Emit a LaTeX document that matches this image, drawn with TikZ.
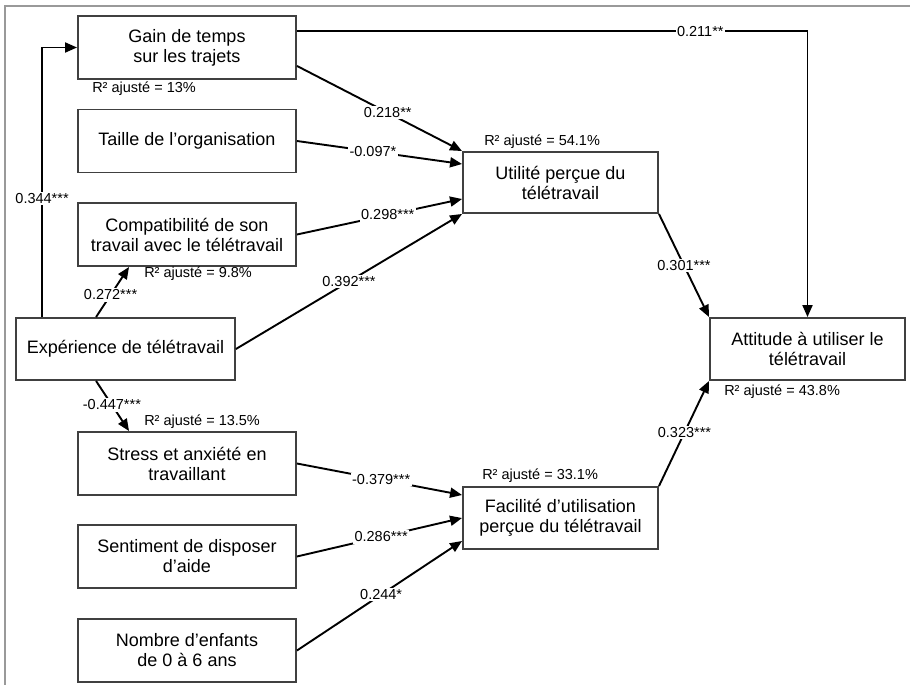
\documentclass[tikz,border=0pt]{standalone}
\usepackage{fontspec}
\setmainfont{Liberation Sans}
\usetikzlibrary{arrows.meta,positioning,calc}

\begin{document}
\begin{tikzpicture}[
      x=1pt,y=-1pt,
      var/.style = {rectangle,draw=black!75,line width=1.9pt,text centered,align=center,minimum width=218pt,minimum height=63pt,inner sep=0pt,font=\fontsize{18}{20}\selectfont},
      dep/.style = {var,minimum width=195pt,minimum height=62pt},
      arrow/.style = {line width=1.9pt,-{Triangle[length=12pt,width=10pt]}},
      coef/.style = {fill=white,inner sep=1.5pt,font=\fontsize{14.5}{16}\selectfont},
      rsq/.style = {anchor=west,inner sep=0pt,font=\fontsize{14.5}{16}\selectfont}
      ]
      \useasboundingbox (0,0) rectangle (910,685);
      \draw[black!40,line width=2pt] (5,685) -- (5,6) -- (910,6);

      % variables explicatives
      \node (gain)[var] at (187,47.5) {Gain de temps\\sur les trajets};
      \node (taille)[var] at (187,141) {Taille de l’organisation};
      \node (compat)[var] at (187,234.5) {Compatibilité de son\\travail avec le télétravail};
      \node (exper)[var,minimum width=219pt,minimum height=62pt] at (125.5,349) {Expérience de télétravail};
      \node (stress)[var] at (187,463.5) {Stress et anxiété en\\travaillant};
      \node (aide)[var] at (187,556.5) {Sentiment de disposer\\d’aide};
      \node (enfants)[var] at (187,650.5) {Nombre d’enfants\\de 0 à 6 ans};

      % variables dependantes
      \node (utilite)[dep,minimum height=61pt] at (560.5,182.5) {Utilité perçue du\\télétravail};
      \node (facilite)[dep] at (560.5,518) {Facilité d’utilisation\\perçue du télétravail};
      \node (attitude)[dep] at (807.5,349) {Attitude à utiliser le\\télétravail};

      % R2
      \node (r2gain)[rsq] at ([xshift=15pt,yshift=-9pt]gain.south west) {R² ajusté = 13\%};
      \node (r2compat)[rsq] at ([xshift=67pt,yshift=-7pt]compat.south west) {R² ajusté = 9.8\%};
      \node (r2stress)[rsq] at ([xshift=67pt,yshift=9pt]stress.north west) {R² ajusté = 13.5\%};
      \node (r2utilite)[rsq] at ([xshift=22pt,yshift=9pt]utilite.north west) {R² ajusté = 54.1\%};
      \node (r2facilite)[rsq] at ([xshift=20pt,yshift=10pt]facilite.north west) {R² ajusté = 33.1\%};
      \node (r2attitude)[rsq] at ([xshift=15pt,yshift=-11pt]attitude.south west) {R² ajusté = 43.8\%};

      % liens
      \draw[arrow] ([yshift=-16pt]gain.north east) -| node[coef,pos=0.395]{0.211**} (attitude.north);
      \draw[arrow] ([xshift=27pt]exper.north west) |- node[coef,pos=0.22]{0.344***} (gain.west);
      \path ([yshift=14pt]gain.south east) edge[arrow] node[coef,pos=0.55]{0.218**} (utilite.north west);
      \path (taille.east) edge[arrow] node[coef,pos=0.46]{-0.097*} ([yshift=18.5pt]utilite.west);
      \path (compat.east) edge[arrow] node[coef,pos=0.55]{0.298***} ([yshift=-16.5pt]utilite.west);
      \path (exper.east) edge[arrow] node[coef,pos=0.5]{0.392***} (utilite.south west);
      \path ([xshift=81pt]exper.north west) edge[arrow] node[coef,pos=0.44]{0.272***} ([xshift=52pt]compat.south west);
      \path ([xshift=81pt]exper.south west) edge[arrow] node[coef,pos=0.48]{-0.447***} ([xshift=52pt]stress.north west);
      \path (utilite.south east) edge[arrow] node[coef,pos=0.5]{0.301***} (attitude.north west);
      \path (facilite.north east) edge[arrow] node[coef,pos=0.51]{0.323***} (attitude.south west);
      \path (stress.east) edge[arrow] node[coef,pos=0.51]{-0.379***} ([yshift=23pt]facilite.west);
      \path (aide.east) edge[arrow] node[coef,pos=0.51]{0.286***} (facilite.west);
      \path (enfants.east) edge[arrow] node[coef,pos=0.51]{0.244*} ([yshift=-23pt]facilite.west);
\end{tikzpicture}
\end{document}
